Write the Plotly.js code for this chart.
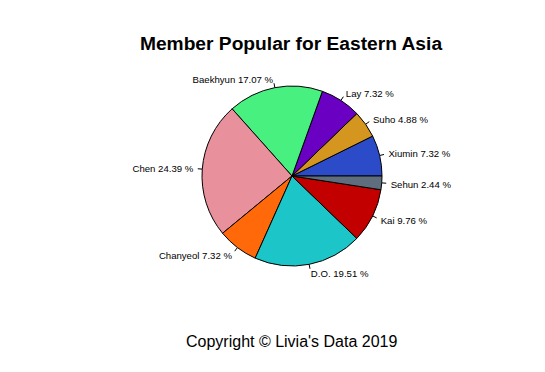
<!DOCTYPE html>
<html>
<head>
<meta charset="utf-8">
<script src="https://cdn.plot.ly/plotly-3.0.1.min.js"></script>
<style>html,body{margin:0;padding:0;background:#fff;}#chart{width:545px;height:372px;}</style>
</head>
<body>
<div id="chart"></div>
<script>
const members = ["Xiumin", "Suho", "Lay", "Baekhyun", "Chen", "Chanyeol", "D.O.", "Kai", "Sehun"];
const counts = [3, 2, 3, 7, 10, 3, 8, 4, 1];
const colors = ["#2B4BC8", "#D4961E", "#6A00C2", "#48F080", "#E8909C", "#FF690A", "#1CC5C8", "#C30000", "#5F6E7E"];
const titleText = "Member Popular for Eastern Asia";
const captionText = "Copyright \u00A9 Livia's Data 2019";

const W = 545, H = 372;
const cx = 292, cy = 176, R = 90;
const labelDy = 1.6; // small vertical nudge of the label baseline

const total = counts.reduce((a, b) => a + b, 0);
const pctLabels = counts.map(c => (Math.round(c / total * 10000) / 100).toFixed(2));
const labelText = members.map((m, i) => m + " " + pctLabels[i] + " %");

// label positions (R pie style): ticks from r to 1.05r, labels at 1.1r
let cum = 0;
const lx = [], ly = [], lpos = [], tx = [], ty = [];
counts.forEach((c, i) => {
  const mid = (cum + c / 2) / total * 2 * Math.PI;
  cum += c;
  const co = Math.cos(mid), si = Math.sin(mid);
  lx.push(cx + 1.1 * R * co);
  ly.push(cy - 1.1 * R * si + labelDy);
  lpos.push(co < 0 ? "middle left" : "middle right");
  tx.push(cx + R * co, cx + 1.05 * R * co, null);
  ty.push(cy - R * si, cy - 1.05 * R * si, null);
});

// Plotly's counterclockwise pies end the first slice at `rotation`; start it at 3 o'clock instead
const rotation = 90 - counts[0] / total * 360;

const traces = [
  {
    type: "pie",
    labels: members,
    values: counts,
    sort: false,
    direction: "counterclockwise",
    rotation: rotation,
    marker: { colors: colors, line: { color: "#000", width: 1 } },
    textinfo: "none",
    hoverinfo: "label+percent",
    showlegend: false,
    domain: { x: [(cx - R) / W, (cx + R) / W], y: [1 - (cy + R) / H, 1 - (cy - R) / H] }
  },
  {
    type: "scatter", mode: "lines", x: tx, y: ty,
    line: { color: "#000", width: 1 }, hoverinfo: "skip", showlegend: false
  },
  {
    type: "scatter", mode: "text", x: lx, y: ly, text: labelText,
    textposition: lpos,
    textfont: { family: "Liberation Sans, Arial, sans-serif", size: 9.6, color: "#000" },
    hoverinfo: "skip", showlegend: false
  }
];

const layout = {
  width: W, height: H,
  margin: { l: 0, r: 0, t: 0, b: 0 },
  paper_bgcolor: "#fff", plot_bgcolor: "rgba(0,0,0,0)",
  xaxis: { range: [0, W], visible: false, fixedrange: true },
  yaxis: { range: [H, 0], visible: false, fixedrange: true },
  title: {
    text: "<b>" + titleText + "</b>",
    font: { family: "Liberation Sans, Arial, sans-serif", size: 19.2, color: "#000" },
    x: 291 / W, xanchor: "center", y: 1 - 43 / H, yanchor: "middle"
  },
  annotations: [{
    text: captionText, xref: "paper", yref: "paper",
    x: 292 / W, y: 1 - 341 / H, xanchor: "center", yanchor: "middle",
    showarrow: false,
    font: { family: "Liberation Sans, Arial, sans-serif", size: 16, color: "#000" }
  }]
};

Plotly.newPlot("chart", traces, layout, { displayModeBar: false, staticPlot: true });
</script>
</body>
</html>
